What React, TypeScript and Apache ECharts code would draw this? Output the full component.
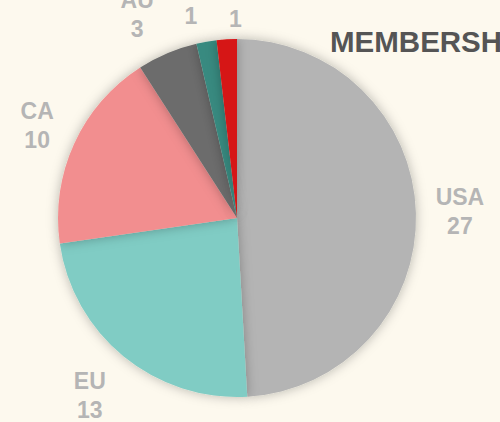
import React, { useEffect, useRef } from "react";
import * as echarts from "echarts";

const categories = ["USA", "EU", "CA", "AU", "", ""];
const values = [27, 13, 10, 3, 1, 1];
const colors = ["#b4b4b4", "#80ccc4", "#f28e8f", "#6c6c6c", "#388a80", "#d61314"];
const labelOffsets = [[0, 0], [-6, 5], [3, 0], [-13, 2], [-8, 18], [11, 24]];
const titleText = "MEMBERSHIP";

export default function App() {
  const ref = useRef<HTMLDivElement>(null);
  useEffect(() => {
    document.body.style.margin = "0";
    const chart = echarts.init(ref.current!, null, { renderer: "svg" });
    const pieData = values.map((v, i) => ({
      name: categories[i],
      value: v,
      itemStyle: { color: colors[i] },
    }));
    const labelData = values.map((v, i) => ({
      name: categories[i],
      value: v,
      label: { offset: labelOffsets[i] },
    }));
    chart.setOption({
      animation: false,
      backgroundColor: "#fdf9ee",
      title: {
        text: titleText,
        left: 330,
        top: 26,
        padding: 0,
        textStyle: {
          fontFamily: "Liberation Sans, Arial, sans-serif",
          fontSize: 29.5,
          fontWeight: "bold",
          color: "#555555",
        },
      },
      series: [
        {
          type: "pie",
          center: [237, 218],
          radius: [0, 179],
          startAngle: 90,
          clockwise: true,
          data: pieData,
          label: { show: false },
          labelLine: { show: false },
          emphasis: { disabled: true },
          itemStyle: {
            shadowBlur: 12,
            shadowColor: "rgba(0,0,0,0.28)",
          },
        },
        {
          type: "pie",
          center: [237, 218],
          radius: [179, 261],
          startAngle: 90,
          clockwise: true,
          silent: true,
          data: labelData,
          itemStyle: { color: "rgba(0,0,0,0)" },
          labelLine: { show: false },
          emphasis: { disabled: true },
          label: {
            show: true,
            position: "inside",
            rotate: 0,
            formatter: (p: any) => (p.name ? p.name + "\n" + p.value : String(p.value)),
            fontFamily: "Liberation Sans, Arial, sans-serif",
            fontSize: 23,
            fontWeight: "bold",
            lineHeight: 29,
            color: "#b5b5b5",
            align: "center",
            verticalAlign: "middle",
          },
        },
      ],
    });
    return () => chart.dispose();
  }, []);
  return <div ref={ref} style={{ width: 500, height: 422 }} />;
}
